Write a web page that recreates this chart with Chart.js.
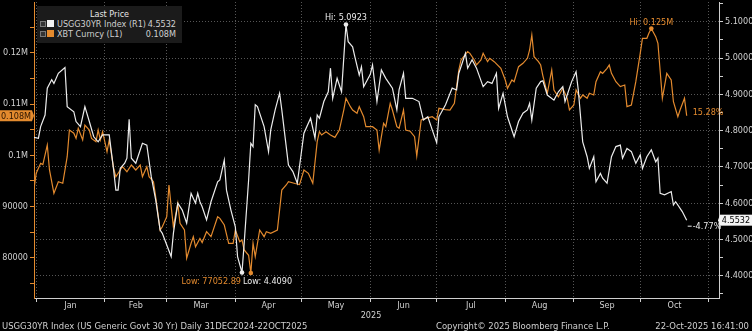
<!DOCTYPE html>
<html><head><meta charset="utf-8">
<script src="https://cdn.jsdelivr.net/npm/chart.js@4/dist/chart.umd.min.js"></script>
<style>
html,body{margin:0;padding:0;background:#000;width:752px;height:331px;overflow:hidden;}
#wrap{position:relative;width:752px;height:331px;background:#000;}
#c{position:absolute;left:0;top:0;}
.t{position:absolute;color:#d0d0d0;font-family:"Liberation Sans Narrow","DejaVu Sans Condensed","Arial Narrow",sans-serif;font-size:9px;line-height:10px;white-space:nowrap;}
#legend{position:absolute;left:37px;top:6px;width:145px;height:37px;background:#1b1b1b;}
.cb{position:absolute;width:4px;height:4px;border:1px solid #777;background:#333;}
.sq{position:absolute;width:7px;height:7px;}
</style></head>
<body>
<div id="wrap">
<canvas id="c" width="752" height="331"></canvas>
<div id="legend">
  <div class="t" style="left:0;top:3px;width:145px;text-align:center;color:#e6e6e6">Last Price</div>
  <span class="cb" style="left:3px;top:15px"></span><span class="sq" style="left:10px;top:14px;background:#f2f2f2"></span>
  <div class="t" id="n1" style="left:20px;top:13px"></div><div class="t" id="v1" style="right:6px;top:13px"></div>
  <span class="cb" style="left:3px;top:25px"></span><span class="sq" style="left:10px;top:24px;background:#e38a2e"></span>
  <div class="t" id="n2" style="left:20px;top:23px"></div><div class="t" id="v2" style="right:6px;top:23px"></div>
</div>
<div class="t" style="left:0;top:310px;width:752px;text-align:center;padding-right:10px;box-sizing:border-box">2025</div>
<div class="t" id="f1" style="left:2px;top:321px;font-size:9.4px"></div>
<div class="t" id="f2" style="left:436px;top:321px;font-size:9.4px"></div>
<div class="t" id="f3" style="right:3px;top:321px;font-size:9.4px"></div>
</div>
<script>
// x values are days since 1 Jan 2025 (Dec 31 2024 = -1)
const yieldName = 'USGG30YR Index';
const xbtName = 'XBT Curncy';
const yieldDays = [-1,1,2,4,5,7,8,10,13,14,17,18,20,22,24,26,28,30,33,35,36,37,38,40,41,42,43,45,48,50,52,54,56,57,59,61,62,64,66,68,70,72,73,74,75,77,79,82,83,85,86,88,90,91,93,94,96,97,98,99,100,103,105,106,108,110,111,114,116,118,119,121,124,126,127,128,130,132,133,134,136,138,140,141,143,144,146,147,148,151,152,154,156,158,161,163,164,166,167,170,173,175,177,179,181,182,185,188,190,191,194,195,197,199,202,204,206,208,209,211,213,216,218,220,222,223,224,226,228,229,231,234,236,238,239,242,244,245,247,249,250,252,253,255,256,258,260,262,264,265,267,269,271,273,274,276,278,280,281,282,284,287,288,289,292,294];
const yieldVals = [4.7813,4.779,4.811,4.843,4.917,4.94,4.93,4.958,4.974,4.866,4.852,4.825,4.811,4.866,4.825,4.783,4.769,4.788,4.788,4.691,4.636,4.636,4.696,4.71,4.724,4.831,4.724,4.71,4.765,4.76,4.673,4.609,4.526,4.517,4.485,4.453,4.517,4.6,4.581,4.545,4.627,4.6,4.627,4.604,4.59,4.554,4.604,4.659,4.664,4.719,4.636,4.581,4.535,4.453,4.409,4.49,4.664,4.765,4.756,4.871,4.866,4.811,4.742,4.802,4.857,4.903,4.857,4.705,4.687,4.655,4.701,4.793,4.834,4.779,4.843,4.834,4.88,4.907,4.972,4.889,4.944,4.907,5.0923,5.045,5.031,5.004,4.953,4.976,4.921,4.955,4.981,4.88,4.967,4.944,4.917,4.857,4.912,4.958,4.889,4.889,4.88,4.829,4.838,4.802,4.767,4.838,4.871,4.917,4.912,4.958,5.013,4.972,4.995,4.972,4.921,4.935,4.93,4.958,4.861,4.903,4.838,4.783,4.825,4.848,4.857,4.875,4.829,4.917,4.935,4.937,4.898,4.884,4.907,4.921,4.88,4.935,4.962,4.912,4.769,4.728,4.696,4.728,4.659,4.682,4.669,4.655,4.728,4.756,4.76,4.724,4.751,4.742,4.71,4.733,4.696,4.728,4.747,4.714,4.724,4.627,4.623,4.632,4.595,4.604,4.577,4.5532];
const xbtDays = [-1,0,2,3,5,6,8,10,12,14,15,17,18,19,21,22,24,25,27,28,29,30,32,33,35,36,38,39,41,43,45,47,48,50,51,53,54,56,57,59,60,61,62,64,65,67,68,70,71,72,74,75,77,79,82,83,85,87,89,90,92,93,94,96,97,98,99,101,103,104,106,109,111,113,114,117,119,121,123,125,127,128,129,131,133,135,137,139,140,142,143,145,146,148,149,151,152,154,155,157,158,160,161,163,164,166,167,169,171,172,174,176,179,181,182,185,187,189,191,192,195,196,198,199,201,202,204,205,207,210,212,213,215,216,218,220,222,223,224,225,227,228,229,231,233,234,236,238,240,241,243,244,246,247,249,250,252,253,255,256,258,259,260,262,264,266,267,269,271,273,274,276,277,278,280,281,283,285,287,288,290,291,293,294];
const xbtVals = [93430,96500,98450,98200,102000,97140,92600,94860,94550,99730,104930,104300,103300,105270,102990,105900,104930,103300,102650,104930,102990,104600,100700,102990,97470,95830,97140,97780,96800,98110,97140,98110,95830,97780,95830,94860,91930,85440,86080,88030,94220,89990,86080,90640,86750,85440,79930,82850,84140,82190,83800,83000,85110,84140,88030,87720,86420,82850,82850,85440,83160,83500,81550,80500,77052.89,82850,80240,85440,84140,85110,84790,85440,93240,94220,94860,94500,94300,97140,96500,94550,102650,104600,103960,104600,103960,103500,104930,108830,111110,109480,108830,108190,109480,107530,105580,105600,105580,104930,101030,106240,105580,110140,108830,105580,105270,108830,104930,104700,103630,99870,106880,107210,107530,106880,109160,108900,108830,110140,116630,118580,120200,119880,118580,117600,118580,119880,118250,118910,118250,116960,114680,113060,114680,114350,117270,117930,118910,120530,123450,119230,118250,117600,115500,112090,116630,112730,111420,113060,111110,108830,109810,112730,111110,111760,111110,112090,111760,114350,116300,115980,116960,117600,115980,114350,113380,113710,109480,109810,114350,119880,122800,122800,123900,124700,123120,121830,111110,115980,114680,110450,107530,108830,111110,107710];
const monthNames = ['Jan','Feb','Mar','Apr','May','Jun','Jul','Aug','Sep','Oct'];
const monthStarts = [0,31,59,90,120,151,181,212,243,273,304];
const xbtTicks = [75000,80000,85000,90000,95000,100000,105000,110000,115000,120000,125000];
const yieldTicks = [4.35,4.40,4.45,4.50,4.55,4.60,4.65,4.70,4.75,4.80,4.85,4.90,4.95,5.00,5.05,5.10,5.15];
const footerLeft = 'USGG30YR Index (US Generic Govt 30 Yr) Daily 31DEC2024-22OCT2025';
const footerMid = 'Copyright\u00A9 2025 Bloomberg Finance L.P.';
const footerRight = '22-Oct-2025 16:41:00';

const FONT = '"Liberation Sans Narrow","DejaVu Sans Condensed","Arial Narrow",sans-serif';
const ORANGE = '#e38a2e', WHITE = '#ececec', GRID = '#565656', AXIS = '#cfcfcf', TXT = '#d0d0d0', CLEAR = 'rgba(0,0,0,0)';

const fmtXbt = v => v >= 100000 ? (v / 1e6).toFixed(3).replace(/0+$/, '') + 'M' : String(Math.round(v));
const fmtXbt3 = v => (v / 1e6).toFixed(3) + 'M';
const lastY = yieldVals[yieldVals.length - 1], lastX = xbtVals[xbtVals.length - 1];

document.getElementById('n1').textContent = yieldName + ' (R1)';
document.getElementById('v1').textContent = lastY.toFixed(4);
document.getElementById('n2').textContent = xbtName + ' (L1)';
document.getElementById('v2').textContent = fmtXbt3(lastX);
document.getElementById('f1').textContent = footerLeft;
document.getElementById('f2').textContent = footerMid;
document.getElementById('f3').textContent = footerRight;

const isMajorY = v => Math.abs(v * 10 - Math.round(v * 10)) < 1e-6;

const yieldData = yieldDays.map((d, i) => ({x: d, y: yieldVals[i]}));
const xbtData = xbtDays.map((d, i) => ({x: d, y: xbtVals[i]}));

const annot = {
  id: 'annot',
  afterDraw(chart) {
    const c = chart.ctx, sx = chart.scales.x, sl = chart.scales.yL, sr = chart.scales.yR, ca = chart.chartArea;
    c.save();
    c.font = '9px ' + FONT;
    c.textBaseline = 'middle';
    // month labels, centred between month starts
    c.fillStyle = TXT; c.textAlign = 'center';
    monthNames.forEach((m, i) => {
      const xm = (sx.getPixelForValue(monthStarts[i]) + sx.getPixelForValue(monthStarts[i + 1])) / 2;
      c.fillText(m, xm, ca.bottom + 8);
    });
    const dot = (x, y, col) => { c.fillStyle = col; c.beginPath(); c.arc(x, y, 2.3, 0, Math.PI * 2); c.fill(); };
    let hiI = 0, loI = 0;
    yieldVals.forEach((v, i) => { if (v > yieldVals[hiI]) hiI = i; if (v < yieldVals[loI]) loI = i; });
    let bhI = 0, blI = 0;
    xbtVals.forEach((v, i) => { if (v > xbtVals[bhI]) bhI = i; if (v < xbtVals[blI]) blI = i; });
    const yhx = sx.getPixelForValue(yieldDays[hiI]), yhy = sr.getPixelForValue(yieldVals[hiI]);
    const ylx = sx.getPixelForValue(yieldDays[loI]), yly = sr.getPixelForValue(yieldVals[loI]);
    const bhx = sx.getPixelForValue(xbtDays[bhI]), bhy = sl.getPixelForValue(xbtVals[bhI]);
    const blx = sx.getPixelForValue(xbtDays[blI]), bly = sl.getPixelForValue(xbtVals[blI]);
    dot(yhx, yhy, WHITE); dot(ylx, yly, WHITE); dot(bhx, bhy, ORANGE); dot(blx, bly, ORANGE);
    c.textAlign = 'center';
    c.fillStyle = WHITE; c.fillText('Hi: ' + yieldVals[hiI].toFixed(4), yhx, yhy - 7);
    c.fillStyle = ORANGE; c.fillText('Hi: ' + fmtXbt3(xbtVals[bhI]), bhx, bhy - 6);
    c.textAlign = 'left';
    c.fillStyle = WHITE; c.fillText('Low: ' + yieldVals[loI].toFixed(4), ylx + 1, yly + 9);
    c.textAlign = 'right';
    c.fillStyle = ORANGE; c.fillText('Low: ' + xbtVals[blI].toFixed(2), ylx - 1, yly + 9);
    const ex = sx.getPixelForValue(xbtDays[xbtDays.length - 1]);
    const ey = sl.getPixelForValue(lastX);
    const wx = sx.getPixelForValue(yieldDays[yieldDays.length - 1]);
    const wy = sr.getPixelForValue(lastY);
    c.textAlign = 'left';
    const pB = (lastX / xbtVals[0] - 1) * 100, pY = (lastY / yieldVals[0] - 1) * 100;
    c.fillStyle = ORANGE; c.fillText(pB.toFixed(2) + '%', ex + 6, ey - 3);
    c.fillStyle = WHITE; c.fillText(pY.toFixed(2) + '%', wx + 6, wy + 6);
    c.strokeStyle = WHITE; c.lineWidth = 1; c.beginPath(); c.moveTo(wx + 1, wy + 6); c.lineTo(wx + 5, wy + 6); c.stroke();
    c.fillStyle = ORANGE; c.fillRect(0, ey - 5.5, 32, 11);
    c.beginPath(); c.moveTo(32, ey - 5.5); c.lineTo(34, ey); c.lineTo(32, ey + 5.5); c.fill();
    c.fillStyle = '#2a1400'; c.textAlign = 'center'; c.fillText(fmtXbt3(lastX), 16, ey + 0.5);
    c.fillStyle = '#f4f4f4'; c.fillRect(720, wy - 5.5, 32, 11);
    c.beginPath(); c.moveTo(720, wy - 5.5); c.lineTo(718, wy); c.lineTo(720, wy + 5.5); c.fill();
    c.fillStyle = '#000'; c.fillText(lastY.toFixed(4), 736, wy + 0.5);
    c.restore();
  }
};

new Chart(document.getElementById('c'), {
  type: 'line',
  data: {datasets: [
    {label: yieldName, data: yieldData, yAxisID: 'yR', borderColor: WHITE, borderWidth: 1.2, pointRadius: 0, tension: 0},
    {label: xbtName, data: xbtData, yAxisID: 'yL', borderColor: ORANGE, borderWidth: 1.2, pointRadius: 0, tension: 0}
  ]},
  options: {
    responsive: false, animation: false, devicePixelRatio: 1,
    layout: {padding: {top: 2, left: 0, right: 0, bottom: 0}},
    plugins: {legend: {display: false}, tooltip: {enabled: false}},
    scales: {
      x: {
        type: 'linear', min: -1, max: 308.6,
        afterBuildTicks(s) { s.ticks = monthStarts.map(v => ({value: v})); },
        afterFit(s) { s.height = 33; s.paddingLeft = 0; s.paddingRight = 0; },
        ticks: {display: false, autoSkip: false, maxRotation: 0},
        grid: {lineWidth: 1, tickLength: 4, color: GRID, tickColor: AXIS},
        border: {color: AXIS, width: 1, dash: [1, 2]}
      },
      yL: {
        position: 'left', min: 72190, max: 129880,
        afterBuildTicks(s) { s.ticks = xbtTicks.map(v => ({value: v})); },
        afterFit(s) { s.width = 34; s.paddingTop = 0; s.paddingBottom = 0; },
        ticks: {padding: 2, color: TXT, font: {family: FONT, size: 9}, callback: v => v % 10000 === 0 ? fmtXbt(v) : ''},
        grid: {drawOnChartArea: false, tickLength: 4, tickColor: ORANGE, color: ORANGE},
        border: {color: ORANGE, width: 1}
      },
      yR: {
        position: 'right', min: 4.3388, max: 5.1543,
        afterBuildTicks(s) { s.ticks = yieldTicks.map(v => ({value: v})); },
        afterFit(s) { s.width = 33; s.paddingTop = 0; s.paddingBottom = 0; },
        ticks: {padding: 2, color: TXT, font: {family: FONT, size: 9}, callback: v => isMajorY(v) ? v.toFixed(4) : ''},
        grid: {lineWidth: 1, tickLength: 4, color: c => (c.tick && isMajorY(c.tick.value)) ? GRID : CLEAR, tickColor: AXIS},
        border: {color: AXIS, width: 1, dash: [1, 2]}
      }
    }
  },
  plugins: [annot]
});
</script>
</body></html>
